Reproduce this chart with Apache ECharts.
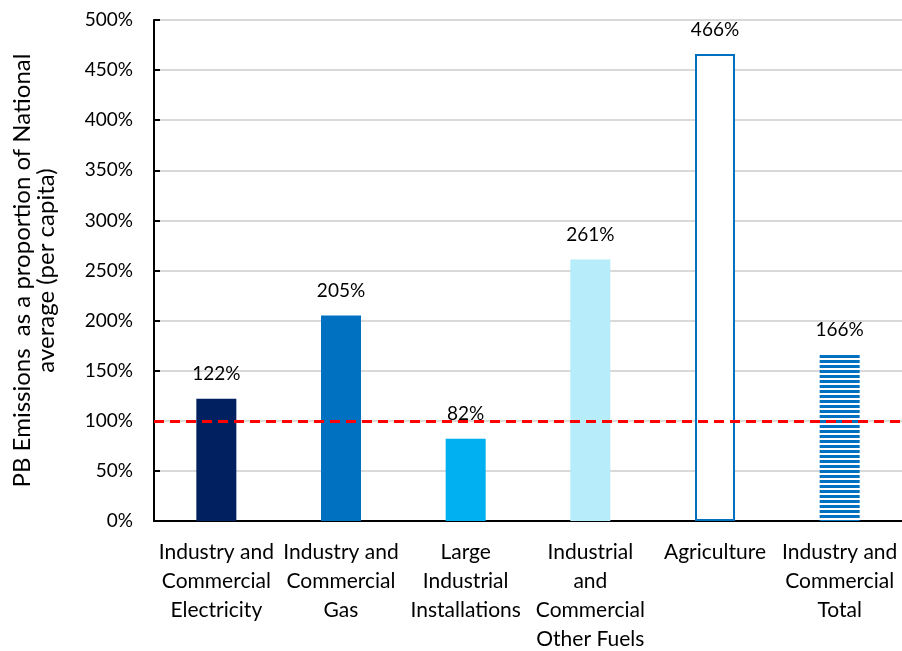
<!DOCTYPE html>
<html><head><meta charset="utf-8">
<script src="https://cdn.jsdelivr.net/npm/echarts@6/dist/echarts.min.js"></script>
<style>html,body{margin:0;padding:0;background:#fff}#c{width:902px;height:651px}</style>
</head><body><div id="c"></div>
<script>
const categories = ['Industry and\nCommercial\nElectricity','Industry and\nCommercial\nGas','Large\nIndustrial\nInstallations','Industrial\nand\nCommercial\nOther Fuels','Agriculture','Industry and\nCommercial\nTotal'];
const values = [122, 205, 82, 261, 466, 166];
const nationalAverage = 100;
const yTicks = [0, 50, 100, 150, 200, 250, 300, 350, 400, 450, 500];

const stripe = document.createElement('canvas');
stripe.width = 4; stripe.height = 5;
const sc = stripe.getContext('2d');
sc.fillStyle = '#ffffff'; sc.fillRect(0,0,4,5);
sc.fillStyle = '#0070C0'; sc.fillRect(0,0,4,3);

const styles = [
  {color:'#002060'},
  {color:'#0070C0'},
  {color:'#00B0F0'},
  {color:'#B7ECFB'},
  {color:'#ffffff', borderColor:'#0070C0', borderWidth:2},
  {color:{image:stripe, repeat:'repeat'}}
];
const FONT = 'Lato';
const chart = echarts.init(document.getElementById('c'));
chart.setOption({
  animation:false,
  textStyle:{fontFamily:FONT},
  grid:{left:154, right:0, top:20, bottom:130, containLabel:false, outerBoundsMode:'none'},
  xAxis:{type:'category', data:categories,
    axisLine:{lineStyle:{color:'#000', width:2}},
    axisTick:{show:false},
    axisLabel:{interval:0, color:'#000', fontSize:21, lineHeight:29, margin:17, fontFamily:FONT}},
  yAxis:{type:'value', min:0, max:500, interval:50,
    name:'PB Emissions  as a proportion of National\naverage (per capita)',
    nameLocation:'middle', nameGap:96, nameRotate:90,
    nameTextStyle:{fontSize:24, color:'#000', lineHeight:24, fontFamily:FONT},
    axisLine:{show:true, lineStyle:{color:'#000', width:2}},
    axisTick:{show:true, inside:true, length:6, lineStyle:{color:'#000', width:2}},
    splitLine:{lineStyle:{color:'#D9D9D9', width:2}},
    axisLabel:{color:'#000', fontSize:19, margin:21, fontFamily:FONT,
      formatter:v=>yTicks.includes(v)? v+'%' : ''}},
  series:[{type:'bar', barWidth:40,
    data: values.map((v,i)=>({value:v, itemStyle:styles[i]})),
    label:{show:true, position:'top', distance:15, color:'#000', fontSize:19, fontFamily:FONT, formatter:p=>p.value+'%'},
    markLine:{silent:true, symbol:'none', label:{show:false},
      lineStyle:{color:'#FF0000', type:[10,6], width:3},
      data:[{yAxis:nationalAverage}]}
  }]
});
</script></body></html>
